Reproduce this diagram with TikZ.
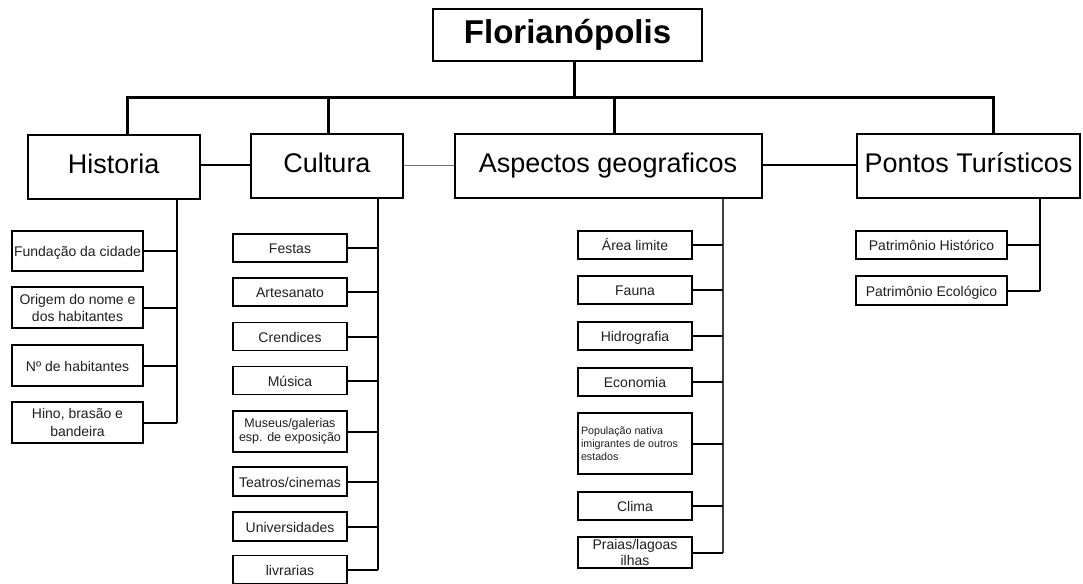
\documentclass[tikz,border=0pt]{standalone}
\usepackage{fontspec}
\setmainfont{Liberation Sans}
\begin{document}
\begin{tikzpicture}[x=1pt,y=-1pt,
  box/.style={draw, line width=2pt, inner sep=0pt, align=center},
  single/.style={text height=11.5pt, text depth=0pt},
  rootbox/.style={box, text height=23.8pt, text depth=6.9pt, line width=2.5pt, font=\fontsize{33}{38}\selectfont\bfseries},
  lvl/.style={box, text height=19.4pt, text depth=5.7pt, minimum height=64, font=\fontsize{27}{32}\selectfont},
  leaf/.style={box, line width=1.8pt, text=black!88, font=\fontsize{14}{17}\selectfont},
  hleaf/.style={leaf, minimum width=131, minimum height=41},
  cleaf/.style={leaf, minimum width=114, minimum height=28},
  aleaf/.style={leaf, minimum width=114, minimum height=28},
  pleaf/.style={leaf, minimum width=151, minimum height=28},
  tree/.style={line width=3pt, line join=miter},
  link/.style={line width=2pt},
  spine/.style={line width=1.8pt},
  thinspine/.style={line width=1.2pt, black!75},
  thinlink/.style={line width=1pt, black!55}]
\useasboundingbox (0,0) rectangle (1083,583);
\fill[white] (0,0) rectangle (1083,583);

% root and level 2
\node[rootbox, minimum width=269, minimum height=52] (root) at (567.5,35) {Florianópolis};
\node[lvl, minimum width=172] (hist) at (113.75,166.5) {Historia};
\node[lvl, minimum width=152] (cult) at (327,166) {Cultura};
\node[lvl, minimum width=307] (asp) at (608,166) {Aspectos geograficos};
\node[lvl, minimum width=223] (pont) at (968.5,166) {Pontos Turísticos};

% top bus
\coordinate (bus0) at (574,98);
\coordinate (busL) at (127,98);
\coordinate (busC) at (328,98);
\coordinate (busA) at (614,98);
\coordinate (busR) at (993,98);
\draw[tree] ([xshift=6.5pt]root.south) -- (bus0);
\draw[tree] (hist.north -| busL) -- (busL) -- (busR) -- (pont.north -| busR);
\draw[tree] (busC) -- (cult.north -| busC);
\draw[tree] (busA) -- (asp.north -| busA);

% level 2 side links
\coordinate (sl) at (0,165);
\draw[link, line width=2.4pt] (hist.east |- sl) -- (cult.west |- sl);
\draw[thinlink] (cult.east |- sl) -- (asp.west |- sl);
\draw[link] (asp.east |- sl) -- (pont.west |- sl);

% Historia children
\node[hleaf, single, minimum height=40] (h1) at (77.5,251) {Fundação da cidade};
\node[hleaf] (h2) at (77.5,307.5) {Origem do nome e\\dos habitantes};
\node[hleaf, single] (h3) at (77.5,365.5) {Nº de habitantes};
\node[hleaf, font=\fontsize{14}{18.5}\selectfont] (h4) at (77.5,422.5) {Hino, brasão e\\bandeira};
\coordinate (hs) at (177,0);
\draw[spine] (hs |- hist.south) -- (hs |- h4.east);
\foreach \n in {h1,h2,h3,h4} \draw[link] (\n.east) -- (\n.east -| hs);

% Cultura children
\node[cleaf, single] (c1) at (290,248) {Festas};
\node[cleaf, single] (c2) at (290,292) {Artesanato};
\node[cleaf, single] (c3) at (290,336.5) {Crendices};
\node[cleaf, single] (c4) at (290,380.5) {Música};
\node[cleaf, minimum height=41, font=\fontsize{12.5}{14.5}\selectfont] (c5) at (290,431.5) {Museus/galerias\\esp. de exposição};
\node[cleaf, single, minimum height=29] (c6) at (290,481.5) {Teatros/cinemas};
\node[cleaf, single, minimum height=29] (c7) at (290,526.5) {Universidades};
\node[cleaf, single] (c8) at (290,569.5) {livrarias};
\coordinate (cs) at (378,0);
\draw[spine] (cs |- cult.south) -- (cs |- c8.east);
\foreach \n in {c1,c2,c3,c4,c5,c6,c7,c8} \draw[link] (\n.east) -- (\n.east -| cs);

% Aspectos children
\node[aleaf, single] (a1) at (635,245) {Área limite};
\node[aleaf, single] (a2) at (635,290) {Fauna};
\node[aleaf, single] (a3) at (635,336) {Hidrografia};
\node[aleaf, single] (a4) at (635,382) {Economia};
\node[aleaf, minimum height=61, align=left, font=\fontsize{10.7}{13}\selectfont] (a5) at (635,443.5) {\parbox{108pt}{População nativa\\imigrantes de outros\\estados}};
\node[aleaf, single] (a6) at (635,506) {Clima};
\node[aleaf, minimum height=31, font=\fontsize{14}{16}\selectfont] (a7) at (635,552.5) {Praias/lagoas\\ilhas};
\coordinate (as) at (723,0);
\draw[thinspine] (as |- asp.south) -- (as |- a7.east);
\foreach \n in {a1,a2,a3,a4,a5,a6,a7} \draw[link] (\n.east) -- (\n.east -| as);

% Pontos children
\node[pleaf, single] (p1) at (931.5,245) {Patrimônio Histórico};
\node[pleaf, single, minimum height=29] (p2) at (931.5,290.5) {Patrimônio Ecológico};
\coordinate (ps) at (1040,0);
\draw[spine] (ps |- pont.south) -- (ps |- p2.east);
\foreach \n in {p1,p2} \draw[link] (\n.east) -- (\n.east -| ps);
\end{tikzpicture}
\end{document}
